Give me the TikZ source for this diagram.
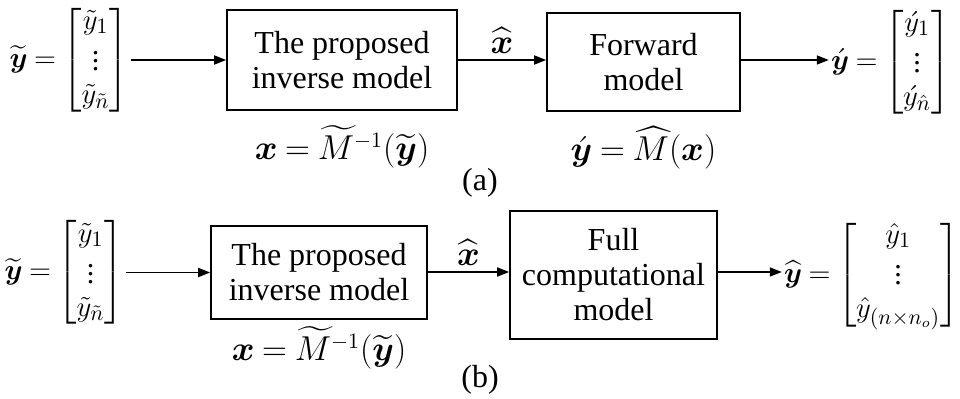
\documentclass[tikz,border=0pt]{standalone}
\usepackage{fontspec}
\setmainfont{Liberation Serif}
\usepackage{amsmath}
\usepackage{tikz}
\usetikzlibrary{arrows.meta,positioning}
\thickmuskip=4mu plus 2mu minus 1mu

\begin{document}
\begin{tikzpicture}[x=0.5pt,y=-0.5pt,>={Triangle[length=6pt,width=4.5pt]},
node distance=10pt,
blk/.style={draw,line width=0.8pt,align=center,inner sep=0pt,font=\fontsize{16}{17.5}\selectfont},
eqn/.style={inner sep=1pt,font=\fontsize{16}{17.5}\selectfont},
vec/.style={inner sep=1pt,font=\fontsize{15}{16.5}\selectfont},
flow/.style={->,line width=0.8pt}]
\useasboundingbox (0,0) rectangle (960,399);
% (a) inverse model followed by the forward model
\node[blk,minimum width=115pt,minimum height=50pt] (inva) at (342,60) {The proposed\\inverse model};
\node[blk,minimum width=96.5pt,minimum height=49pt] (fwda) at (643.5,62) {Forward\\model};
\node[vec,left=47.5pt of inva] (yina) {$\widetilde{\boldsymbol{y}}=\begin{bmatrix}\tilde{y}_1\\ \vdots\\ \tilde{y}_{\tilde{n}}\end{bmatrix}$};
\node[vec,right=44pt of fwda] (youta) {$\acute{\boldsymbol{y}}=\begin{bmatrix}\acute{y}_1\\ \vdots\\ \acute{y}_{\hat{n}}\end{bmatrix}$};
\node[eqn,below=6pt of inva] (mapa) {$\boldsymbol{x}=\widetilde{M}^{-1}(\widetilde{\boldsymbol{y}})$};
\node[eqn,below=6pt of fwda] (fmapa) {$\acute{\boldsymbol{y}}=\widehat{M}(\boldsymbol{x})$};
\node[eqn] (capa) at (480,183) {(a)};
\draw[flow] (yina) -- (inva);
\draw[flow] (inva.east |- 0,60) -- node[eqn,above=2pt]{$\widehat{\boldsymbol{x}}$} (fwda.west |- 0,60);
\draw[flow] (fwda.east |- 0,60) -- (youta.west |- 0,60);
% (b) inverse model followed by the full computational model
\node[blk,minimum width=108pt,minimum height=46.5pt] (invb) at (319,272.5) {The proposed\\inverse model};
\node[blk,minimum width=103.5pt,minimum height=64pt] (fullb) at (613.5,275) {Full\\computational\\model};
\node[vec,left=42pt of invb] (yinb) {$\widetilde{\boldsymbol{y}}=\begin{bmatrix}\tilde{y}_1\\ \vdots\\ \tilde{y}_{\tilde{n}}\end{bmatrix}$};
\node[vec,right=32pt of fullb] (youtb) {$\widehat{\boldsymbol{y}}=\begin{bmatrix}\hat{y}_1\\ \vdots\\ \hat{y}_{(n\times n_o)}\end{bmatrix}$};
\node[eqn,below=2pt of invb] (mapb) {$\boldsymbol{x}=\widetilde{M}^{-1}(\widetilde{\boldsymbol{y}})$};
\node[eqn] (capb) at (480,380) {(b)};
\draw[flow] (yinb) -- (invb);
\draw[flow] (invb.east |- 0,272) -- node[eqn,above=2pt]{$\widehat{\boldsymbol{x}}$} (fullb.west |- 0,272);
\draw[flow] (fullb.east |- 0,272) -- (youtb.west |- 0,272);
\end{tikzpicture}
\end{document}
